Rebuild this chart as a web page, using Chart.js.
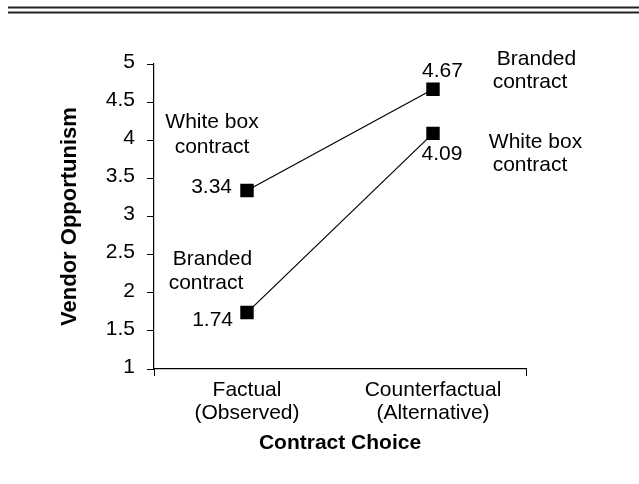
<!DOCTYPE html>
<html>
<head>
<meta charset="utf-8">
<script src="https://cdn.jsdelivr.net/npm/chart.js@4.4.1/dist/chart.umd.min.js"></script>
<style>
  body { margin: 0; background: #fff; }
  canvas { display: block; }
</style>
</head>
<body>
<canvas id="choiceChart" width="639" height="484"></canvas>
<script>
// --- data ---
const categories = [["Factual", "(Observed)"], ["Counterfactual", "(Alternative)"]];
// chose white box: observed 3.34, would have been 4.67 with a branded contract
const whiteBoxChosen = [3.34, 4.67];
const whiteBoxChosenContracts = ["White box", "Branded"];
// chose branded: observed 1.74, would have been 4.09 with a white box contract
const brandedChosen = [1.74, 4.09];
const brandedChosenContracts = ["Branded", "White box"];
const yMin = 1, yMax = 5, yStep = 0.5;

const FONT = "'Liberation Sans', Arial, sans-serif";
const CAP = 7.5; // half cap height at 21px, to place text by its visual centre

// label placement, px offsets from each point (style only)
const valuePlace = [
  [{ dx: -15, dy: -5, align: "right" }, { dx: 9.5, dy: -19.5, align: "center" }],
  [{ dx: -14, dy: 6, align: "right" }, { dx: 9, dy: 19, align: "center" }]
];
const namePlace = [
  [{ dx: -35, dy: -70.5, dx2: -35, dy2: -45.5 }, { dx: 103.5, dy: -32, dx2: 97, dy2: -9 }],
  [{ dx: -34.5, dy: -55.5, dx2: -41, dy2: -31.5 }, { dx: 102.5, dy: 7.5, dx2: 97, dy2: 30.5 }]
];
const contractNames = [whiteBoxChosenContracts, brandedChosenContracts];

const pointLabels = {
  id: "pointLabels",
  afterDatasetsDraw(chart) {
    const ctx = chart.ctx;
    ctx.save();
    ctx.fillStyle = "#000";
    ctx.font = "21px " + FONT;
    ctx.textBaseline = "alphabetic";
    chart.data.datasets.forEach((ds, di) => {
      const meta = chart.getDatasetMeta(di);
      meta.data.forEach((pt, i) => {
        const v = valuePlace[di][i];
        ctx.textAlign = v.align;
        ctx.fillText(ds.data[i].toFixed(2), pt.x + v.dx, pt.y + v.dy + CAP);
        const n = namePlace[di][i];
        ctx.textAlign = "center";
        ctx.fillText(contractNames[di][i], pt.x + n.dx, pt.y + n.dy + CAP);
        ctx.fillText("contract", pt.x + n.dx2, pt.y + n.dy2 + CAP);
      });
    });
    ctx.restore();
  }
};

const topRules = {
  id: "topRules",
  afterDraw(chart) {
    const ctx = chart.ctx;
    ctx.save();
    ctx.strokeStyle = "#222";
    ctx.lineWidth = 2;
    [7.5, 12.5].forEach(y => {
      ctx.beginPath();
      ctx.moveTo(8, y);
      ctx.lineTo(chart.width, y);
      ctx.stroke();
    });
    ctx.restore();
  }
};

const lineStyle = {
  borderColor: "#000",
  borderWidth: 1.2,
  pointStyle: "rect",
  pointRadius: 9.5,
  pointBackgroundColor: "#000",
  pointBorderWidth: 0,
  tension: 0,
  fill: false
};

new Chart(document.getElementById("choiceChart"), {
  type: "line",
  data: {
    labels: categories,
    datasets: [
      Object.assign({ label: "Chose white box", data: whiteBoxChosen }, lineStyle),
      Object.assign({ label: "Chose branded", data: brandedChosen }, lineStyle)
    ]
  },
  options: {
    responsive: false,
    animation: false,
    layout: { padding: { top: 64, right: 113, bottom: 20, left: 0 } },
    plugins: { legend: { display: false }, tooltip: { enabled: false } },
    scales: {
      x: {
        offset: true,
        afterFit: s => { s.height = 95; },
        border: { color: "#000", width: 1.2 },
        grid: {
          offset: true,
          drawOnChartArea: false,
          tickLength: 7,
          color: c => (c.index === 1 ? "rgba(0,0,0,0)" : "#000")
        },
        ticks: { color: "#000", padding: 3, font: { family: FONT, size: 21, lineHeight: 1.1 } },
        title: {
          display: true,
          text: "Contract Choice",
          color: "#000",
          padding: { top: 0, bottom: 8 },
          font: { family: FONT, size: 21, weight: "bold" }
        }
      },
      y: {
        min: yMin,
        max: yMax,
        afterFit: s => { s.width = 154; },
        border: { color: "#000", width: 1.2 },
        grid: { drawOnChartArea: false, tickLength: 7, color: "#000" },
        ticks: {
          stepSize: yStep,
          color: "#000",
          padding: 12,
          labelOffset: -2,
          callback: v => String(v),
          font: { family: FONT, size: 21 }
        },
        title: {
          display: true,
          text: "Vendor Opportunism",
          color: "#000",
          padding: { top: 57, bottom: 0 },
          font: { family: FONT, size: 22, weight: "bold" }
        }
      }
    }
  },
  plugins: [pointLabels, topRules]
});
</script>
</body>
</html>
